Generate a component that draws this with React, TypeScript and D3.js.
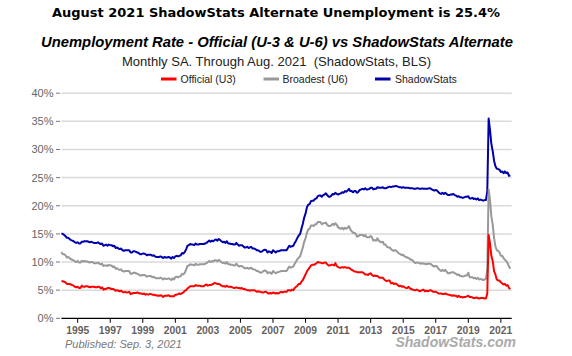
import React from "react";
import * as d3 from "d3";

const startYear = 1994;
const yTicks = [0, 5, 10, 15, 20, 25, 30, 35, 40];
const xTickYears = [1995, 1997, 1999, 2001, 2003, 2005, 2007, 2009, 2011, 2013, 2015, 2017, 2019, 2021];

const u3Values = [
  6.6,6.6,6.5,6.4,6.1,6.1,6.1,6.0,5.9,5.8,5.6,5.5,
  5.6,5.4,5.4,5.8,5.6,5.6,5.7,5.7,5.6,5.5,5.6,5.6,
  5.6,5.5,5.5,5.6,5.6,5.3,5.5,5.1,5.2,5.2,5.4,5.4,
  5.3,5.2,5.2,5.1,4.9,5.0,4.9,4.8,4.9,4.7,4.6,4.7,
  4.6,4.6,4.7,4.3,4.4,4.5,4.5,4.5,4.6,4.5,4.4,4.4,
  4.3,4.4,4.2,4.3,4.2,4.3,4.3,4.2,4.2,4.1,4.1,4.0,
  4.0,4.1,4.0,3.8,4.0,4.0,4.0,4.1,3.9,3.9,3.9,3.9,
  4.2,4.2,4.3,4.4,4.3,4.5,4.6,4.9,5.0,5.3,5.5,5.7,
  5.7,5.7,5.7,5.9,5.8,5.8,5.8,5.7,5.7,5.7,5.9,6.0,
  5.8,5.9,5.9,6.0,6.1,6.3,6.2,6.1,6.1,6.0,5.8,5.7,
  5.7,5.6,5.8,5.6,5.6,5.6,5.5,5.4,5.4,5.5,5.4,5.4,
  5.3,5.4,5.2,5.2,5.1,5.0,5.0,4.9,5.0,5.0,5.0,4.9,
  4.7,4.8,4.7,4.7,4.6,4.6,4.7,4.7,4.5,4.4,4.5,4.4,
  4.6,4.5,4.4,4.5,4.4,4.6,4.7,4.6,4.7,4.7,4.7,5.0,
  5.0,4.9,5.1,5.0,5.4,5.6,5.8,6.1,6.1,6.5,6.8,7.3,
  7.8,8.3,8.7,9.0,9.4,9.5,9.5,9.6,9.8,10.0,9.9,9.9,
  9.8,9.8,9.9,9.9,9.6,9.4,9.4,9.5,9.5,9.4,9.8,9.3,
  9.1,9.0,9.0,9.1,9.0,9.1,9.0,9.0,9.0,8.8,8.6,8.5,
  8.3,8.3,8.2,8.2,8.2,8.2,8.2,8.0,7.8,7.8,7.7,7.9,
  8.0,7.7,7.5,7.6,7.5,7.5,7.3,7.2,7.2,7.2,6.9,6.7,
  6.6,6.7,6.7,6.2,6.3,6.1,6.2,6.1,5.9,5.7,5.8,5.6,
  5.7,5.5,5.4,5.4,5.6,5.3,5.2,5.1,5.0,5.0,5.1,5.0,
  4.8,4.9,5.0,5.1,4.8,4.9,4.8,4.9,5.0,4.9,4.7,4.7,
  4.7,4.6,4.4,4.4,4.4,4.3,4.3,4.4,4.3,4.2,4.2,4.1,
  4.0,4.1,4.0,4.0,3.8,4.0,3.8,3.8,3.7,3.8,3.8,3.9,
  4.0,3.8,3.8,3.7,3.6,3.6,3.7,3.6,3.5,3.6,3.6,3.6,
  3.5,3.5,4.4,14.8,13.3,11.1,10.2,8.4,7.8,6.9,6.7,6.7,
  6.4,6.2,6.0,6.1,5.8,5.9,5.4,5.2,
];

const u6Values = [
  11.8,11.4,11.4,11.2,10.8,10.9,10.7,10.5,10.4,10.3,10.1,10.0,
  10.2,9.9,9.9,10.2,10.1,10.2,10.1,10.1,10.0,9.9,10.0,10.0,
  9.8,9.8,9.8,9.9,9.7,9.6,9.7,9.3,9.4,9.4,9.3,9.5,
  9.4,9.4,9.1,9.2,8.8,8.9,8.7,8.6,8.7,8.4,8.3,8.4,
  8.4,8.4,8.4,7.9,7.9,8.1,8.1,8.0,7.9,7.8,7.6,7.6,
  7.7,7.7,7.6,7.4,7.5,7.5,7.5,7.3,7.4,7.2,7.1,7.1,
  7.1,7.2,7.1,6.9,7.1,7.0,7.0,7.1,7.0,6.8,7.1,6.9,
  7.3,7.4,7.3,7.4,7.5,7.9,7.8,8.1,8.7,9.3,9.4,9.6,
  9.5,9.5,9.4,9.7,9.5,9.5,9.6,9.6,9.6,9.6,9.7,9.8,
  10.0,10.2,10.0,10.2,10.1,10.3,10.3,10.1,10.4,10.2,10.0,9.8,
  9.9,9.7,10.0,9.6,9.6,9.5,9.5,9.4,9.4,9.7,9.4,9.2,
  9.3,9.3,9.1,8.9,8.9,9.0,8.8,8.9,9.0,8.7,8.7,8.6,
  8.4,8.4,8.2,8.1,8.2,8.4,8.5,8.4,8.0,8.2,8.1,7.9,
  8.4,8.2,8.0,8.2,8.2,8.3,8.4,8.4,8.4,8.4,8.4,8.8,
  9.2,9.0,9.1,9.2,9.7,10.1,10.5,10.8,11.0,11.8,12.6,13.6,
  14.2,15.2,15.8,15.9,16.5,16.5,16.4,16.7,16.7,17.1,17.1,17.1,
  16.7,16.9,16.9,17.0,16.6,16.4,16.4,16.5,16.8,16.6,16.9,16.6,
  16.2,16.0,15.9,16.1,15.8,16.1,15.9,16.1,16.4,15.8,15.5,15.2,
  15.2,15.0,14.5,14.6,14.8,14.8,14.8,14.6,14.8,14.4,14.4,14.4,
  14.6,14.4,13.8,13.9,13.8,14.2,13.8,13.6,13.5,13.6,13.1,13.1,
  12.7,12.6,12.6,12.3,12.1,12.0,12.1,12.0,11.7,11.5,11.4,11.2,
  11.3,11.0,10.9,10.8,10.7,10.5,10.4,10.3,10.0,9.8,9.9,9.9,
  9.8,9.7,9.8,9.7,9.7,9.6,9.7,9.7,9.7,9.5,9.3,9.2,
  9.3,9.2,8.8,8.6,8.4,8.6,8.4,8.6,8.3,8.0,8.0,8.1,
  8.2,8.2,8.0,7.9,7.7,7.8,7.5,7.5,7.4,7.5,7.6,7.6,
  8.1,7.3,7.3,7.3,7.1,7.2,7.0,7.2,6.9,7.0,6.9,6.8,
  6.9,7.0,8.7,22.9,21.1,18.1,16.6,14.3,12.8,12.1,12.0,11.7,
  11.1,11.1,10.7,10.4,10.2,9.8,9.2,8.8,
];

const shadowValues = [
  15.1,15.0,14.8,14.6,14.3,14.3,14.1,13.9,13.8,13.7,13.5,13.4,
  13.5,13.3,13.3,13.6,13.6,13.7,13.7,13.7,13.6,13.5,13.6,13.5,
  13.4,13.4,13.4,13.5,13.3,13.2,13.3,12.9,13.0,13.1,12.9,13.1,
  13.0,13.0,12.8,12.9,12.5,12.6,12.4,12.3,12.4,12.1,12.0,12.1,
  12.1,12.1,12.1,11.7,11.7,11.9,11.9,11.8,11.7,11.6,11.4,11.4,
  11.5,11.5,11.4,11.2,11.3,11.3,11.3,11.1,11.2,11.0,10.9,10.9,
  10.9,11.0,10.9,10.7,10.9,10.8,10.8,10.9,10.8,10.6,10.9,10.7,
  11.0,11.1,11.0,11.1,11.2,11.6,11.5,11.8,12.3,12.9,13.0,13.2,
  13.1,13.1,13.0,13.3,13.1,13.1,13.2,13.2,13.2,13.2,13.3,13.4,
  13.6,13.8,13.6,13.8,13.7,13.9,14.0,13.8,14.1,13.9,13.7,13.5,
  13.6,13.4,13.7,13.3,13.3,13.2,13.2,13.1,13.1,13.4,13.1,12.9,
  13.0,13.0,12.8,12.6,12.6,12.7,12.5,12.6,12.7,12.4,12.4,12.3,
  12.1,12.1,11.9,11.8,11.9,12.1,12.2,12.1,11.7,11.9,11.8,11.6,
  12.1,11.9,11.7,11.9,11.9,12.0,12.1,12.1,12.1,12.1,12.1,12.5,
  12.9,12.7,12.8,12.9,13.4,13.8,14.3,14.7,15.0,15.9,16.8,17.9,
  18.6,19.7,20.2,20.3,20.8,20.9,20.9,21.2,21.3,21.7,21.8,21.8,
  21.6,21.9,22.0,22.2,21.9,21.6,21.6,21.8,22.1,22.0,22.3,22.1,
  22.0,22.1,22.2,22.4,22.3,22.6,22.5,22.7,23.0,22.6,22.6,22.4,
  22.6,22.6,22.3,22.5,22.8,22.9,23.0,22.9,23.1,22.9,22.9,23.0,
  23.2,23.2,22.9,23.0,23.0,23.3,23.2,23.2,23.2,23.3,23.1,23.1,
  23.2,23.3,23.4,23.3,23.4,23.4,23.5,23.5,23.4,23.3,23.3,23.2,
  23.3,23.2,23.2,23.2,23.2,23.1,23.1,23.1,23.0,23.0,23.1,23.1,
  23.0,23.0,23.1,23.0,23.0,23.0,23.0,23.1,23.1,22.9,22.8,22.7,
  22.8,22.7,22.4,22.2,22.1,22.3,22.1,22.3,22.1,21.9,21.9,22.0,
  22.0,22.1,21.9,21.8,21.6,21.7,21.5,21.5,21.4,21.5,21.6,21.6,
  21.7,21.3,21.3,21.4,21.2,21.3,21.1,21.3,21.0,21.1,21.0,20.9,
  21.0,21.0,22.6,35.5,33.5,31.0,29.7,28.0,27.0,26.6,26.5,26.4,
  26.0,26.1,25.8,26.1,25.8,25.9,25.3,25.4,
];

const seriesNames = ["Official (U3)", "Broadest (U6)", "ShadowStats"];
const seriesColors = ["#ff0000", "#999999", "#0000aa"];

export default function App() {
  const W = 572, H = 356;
  const left = 61.4, right = 511.7, top = 93.2, bottom = 318.3;
  const x = d3.scaleLinear().domain([startYear, 2021 + 8 / 12]).range([left, right]);
  const y = d3.scaleLinear().domain([0, 40]).range([bottom, top]);
  const line = d3
    .line<number>()
    .x((_, i) => x(startYear + i / 12))
    .y((v) => y(v));
  const allSeries = [u3Values, u6Values, shadowValues];
  const drawOrder = [2, 1, 0];
  const legendX = [161, 263.5, 375];
  const legendTextX = [180.5, 282.5, 395];

  return (
    <svg
      width={W}
      height={H}
      style={{ position: "absolute", left: 0, top: 0, background: "#fff" }}
      fontFamily="Arial, 'Liberation Sans', sans-serif"
    >
      <rect width={W} height={H} fill="#fff" />
      <text
        x={276}
        y={17}
        textAnchor="middle"
        fontFamily="'DejaVu Sans', Verdana, sans-serif"
        fontWeight="bold"
        fontSize={13}
        textLength={448}
        lengthAdjust="spacingAndGlyphs"
        fill="#000"
      >
        August 2021 ShadowStats Alternate Unemployment is 25.4%
      </text>
      <text
        x={277}
        y={47}
        textAnchor="middle"
        fontWeight="bold"
        fontStyle="italic"
        fontSize={15}
        textLength={472}
        lengthAdjust="spacingAndGlyphs"
        fill="#000"
      >
        Unemployment Rate - Official (U-3 &amp; U-6) vs ShadowStats Alternate
      </text>
      <text
        x={276.5}
        y={65.5}
        textAnchor="middle"
        fontSize={13}
        textLength={309}
        lengthAdjust="spacingAndGlyphs"
        fill="#222"
        style={{ whiteSpace: "pre" }}
      >
        {"Monthly SA. Through Aug. 2021  (ShadowStats, BLS)"}
      </text>

      {seriesNames.map((name, i) => (
        <g key={name}>
          <line x1={legendX[i]} x2={legendX[i] + 15.5} y1={79} y2={79} stroke={seriesColors[i]} strokeWidth={3} />
          <text x={legendTextX[i]} y={82.7} fontSize={10.5} fill="#222">
            {name}
          </text>
        </g>
      ))}

      {yTicks.map((t) => (
        <g key={t}>
          {t > 0 && (
            <line x1={left} x2={right} y1={y(t)} y2={y(t)} stroke="#dadada" strokeWidth={1.5} />
          )}
          <line x1={56} x2={60} y1={y(t)} y2={y(t)} stroke="#777" strokeWidth={1} />
          <text x={53.5} y={y(t) + 4} textAnchor="end" fontSize={11} fill="#666">
            {t}%
          </text>
        </g>
      ))}

      {drawOrder.map((si) => (
        <path
          key={si}
          d={line(allSeries[si]) || ""}
          fill="none"
          stroke={seriesColors[si]}
          strokeWidth={2}
          strokeLinejoin="round"
        />
      ))}

      <line x1={left} x2={right} y1={bottom} y2={bottom} stroke="#000" strokeWidth={1.2} />
      {xTickYears.map((yr) => (
        <g key={yr}>
          <line x1={x(yr)} x2={x(yr)} y1={bottom} y2={bottom + 4.5} stroke="#000" strokeWidth={1} />
          <text
            x={x(yr)}
            y={334.3}
            textAnchor="middle"
            fontSize={11.5}
            fontWeight="bold"
            fill="#665f5f"
            textLength={23}
            lengthAdjust="spacingAndGlyphs"
          >
            {yr}
          </text>
        </g>
      ))}

      <text x={65} y={348.3} fontSize={11} fontStyle="italic" fill="#777">
        Published: Sep. 3, 2021
      </text>
      <text
        x={516}
        y={346.7}
        textAnchor="end"
        fontSize={14}
        fontWeight="bold"
        fontStyle="italic"
        fill="#aaaaaa"
      >
        ShadowStats.com
      </text>
    </svg>
  );
}
